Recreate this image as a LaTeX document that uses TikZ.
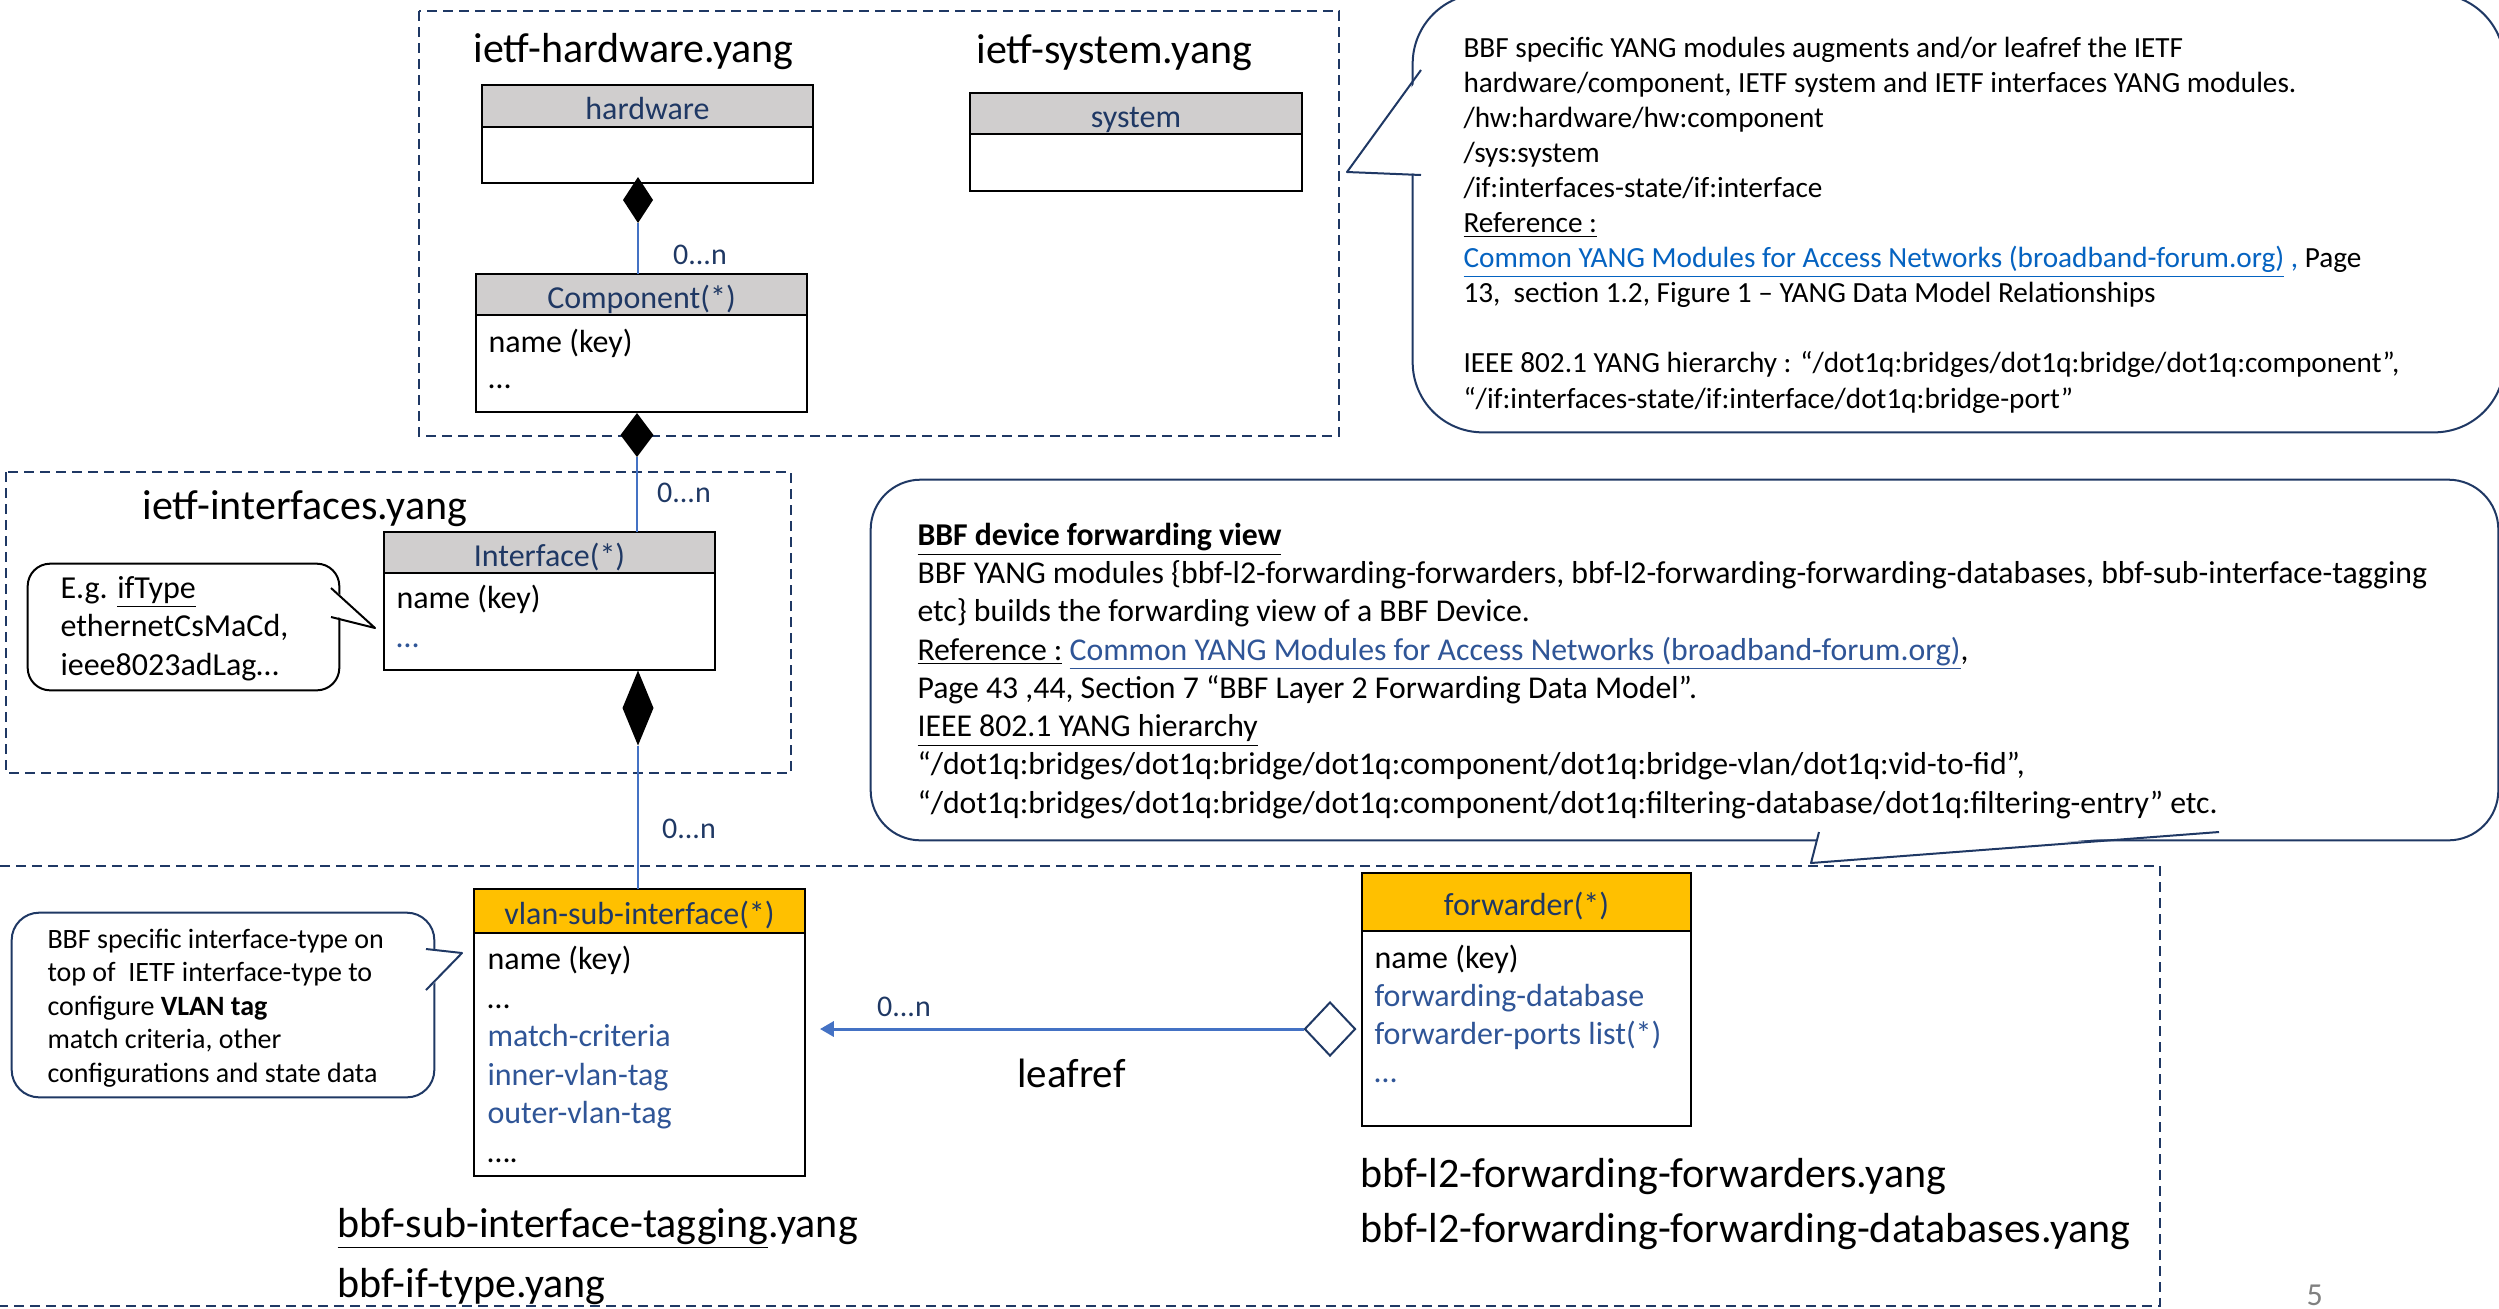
\documentclass[tikz,border=0pt]{standalone}
\usepackage{fontspec}
\setmainfont{Carlito}
\usetikzlibrary{shapes.geometric,fit,arrows.meta}

\definecolor{navy}{RGB}{31,56,100}
\definecolor{headgray}{RGB}{208,206,206}
\definecolor{yangorange}{RGB}{255,192,0}
\definecolor{leafblue}{RGB}{47,85,151}
\definecolor{linkblue}{RGB}{5,99,193}
\definecolor{linkdark}{RGB}{47,85,151}
\definecolor{wireblue}{RGB}{68,114,196}

\newcommand\fsz[2]{\fontsize{#1}{#2}\selectfont}

\tikzset{
  module/.style={draw=navy, line width=0.8pt, dash pattern=on 4pt off 2.4pt},
  classhead/.style={draw=black, line width=0.9pt, inner sep=0pt, outer sep=0pt, fill=#1, text=navy,
    anchor=north west, font=\fsz{12.8}{15.4}, text height=12.2pt, text depth=1.3pt},
  classhead/.default=headgray,
  classbody/.style={draw=black, line width=0.9pt, inner sep=0pt, outer sep=0pt, fill=white, anchor=north west},
  items/.style={anchor=base west, inner sep=0pt, align=left, font=\fsz{12.8}{15.4}},
  yangname/.style={anchor=base west, inner sep=0pt, font=\fsz{16.8}{20}},
  mult/.style={inner sep=0pt, text=navy, font=\fsz{12}{14}},
  comp/.style={diamond, fill=black, inner sep=0pt, outer sep=0pt},
  wire/.style={draw=wireblue, line width=0.6pt},
  callout/.style={draw=navy, line width=0.8pt, fill=white},
  note/.style={anchor=base west, inner sep=0pt, align=left},
}

\begin{document}
\begin{tikzpicture}[x=0.4pt, y=-0.4pt]
\useasboundingbox (0,0) rectangle (2499,1308);

% module frames
\draw[module] (419,11) rectangle (1339,436);
\draw[module] (6,472) rectangle (791,773);
\draw[module] (0,866) -- (2160,866) -- (2160,1306) -- (0,1306);

% module names
\node[yangname] (hwyang) at (473,62) {ietf-hardware.yang};
\node[yangname] (sysyang) at (976,63) {ietf-system.yang};
\node[yangname] (ifyang) at (142,519) {ietf-interfaces.yang};
\node[yangname] (tagyang) at (337,1237) {\underline{bbf-sub-interface-tagging}.yang};
\node[yangname] (iftypeyang) at (337,1297) {bbf-if-type.yang};
\node[yangname] (fwdyang) at (1360,1187) {bbf-l2-forwarding-forwarders.yang};
\node[yangname] (fdbyang) at (1360,1242) {bbf-l2-forwarding-forwarding-databases.yang};

% callouts (multi-line texts sit on their last baseline)
\node[callout, rounded corners=28pt, fit={(1421,2) (2496,424)}] (hwnote) {};
\fill[white] (1424,71) -- (1347,172) -- (1424,174) -- cycle;
\draw[navy, line width=0.8pt, line join=round] (1421,70) -- (1347,172) -- (1421,175);
\node[note, font=\fsz{11.7}{14.04}] (hwnotetext) at (1463,408) {BBF specific YANG modules augments and/or leafref the IETF\\
hardware/component, IETF system and IETF interfaces YANG modules.\\
/hw:hardware/hw:component\\
/sys:system\\
/if:interfaces-state/if:interface\\
\underline{Reference :}\\
{\color{linkblue}\underline{Common YANG Modules for Access Networks (broadband-forum.org)} ,} Page\\
13,\ \ section 1.2, Figure 1 -- YANG Data Model Relationships\\[14.04pt]
IEEE 802.1 YANG hierarchy : “/dot1q:bridges/dot1q:bridge/dot1q:component”,\\
“/if:interfaces-state/if:interface/dot1q:bridge-port”};

\node[callout, rounded corners=20pt, fit={(879,488) (2490,832)}] (fwdnote) {};
\fill[white] (1819,829) -- (1811,863) -- (2219,829) -- cycle;
\draw[navy, line width=0.8pt, line join=round] (1819,832) -- (1811,863) -- (2219,832);
\node[note, font=\fsz{12.7}{15.3}] (fwdnotetext) at (917,813) {\textbf{\underline{BBF device forwarding view}}\\
BBF YANG modules \{bbf-l2-forwarding-forwarders, bbf-l2-forwarding-forwarding-databases, bbf-sub-interface-tagging\\
etc\} builds the forwarding view of a BBF Device.\\
\underline{Reference :} {\color{linkdark}\underline{Common YANG Modules for Access Networks (broadband-forum.org)}},\\
Page 43 ,44, Section 7 “BBF Layer 2 Forwarding Data Model”.\\
\underline{IEEE 802.1 YANG hierarchy}\\
“/dot1q:bridges/dot1q:bridge/dot1q:component/dot1q:bridge-vlan/dot1q:vid-to-fid”,\\
“/dot1q:bridges/dot1q:bridge/dot1q:component/dot1q:filtering-database/dot1q:filtering-entry” etc.};

\node[callout, draw=black, rounded corners=9pt, fit={(36,572) (331,682)}] (egnote) {};
\fill[white] (334,589) -- (375,628) -- (334,616) -- cycle;
\draw[black, line width=0.8pt, line join=round] (331,588) -- (375,628) -- (331,617);
\node[note, font=\fsz{12.8}{15.4}] (egnotetext) at (60,675) {E.g. \underline{ifType}\\ethernetCsMaCd,\\ieee8023adLag…};

\node[callout, rounded corners=11pt, fit={(20,921) (426,1089)}] (vlannote) {};
\fill[white] (429,950) -- (462,953) -- (429,989) -- cycle;
\draw[navy, line width=0.8pt, line join=round] (426,949) -- (462,953) -- (426,990);
\node[note, font=\fsz{11.2}{13.4}] (vlannotetext) at (47,1082) {BBF specific interface-type on\\
top of\ \ IETF interface-type to\\
configure \textbf{VLAN tag}\\
match criteria, other\\
configurations and state data};

% classes
\node[classhead, minimum width=132.4pt, minimum height=16.8pt] (hwhead) at (482,85) {hardware};
\node[classbody, minimum width=132.4pt, minimum height=22.4pt] (hwbody) at (hwhead.south west) {};

\node[classhead, minimum width=132.8pt, minimum height=16.4pt] (syshead) at (970,93) {system};
\node[classbody, minimum width=132.8pt, minimum height=22.8pt] (sysbody) at (syshead.south west) {};

\node[classhead, minimum width=132.4pt, minimum height=16.4pt] (comphead) at (476,274) {Component(*)};
\node[classbody, minimum width=132.4pt, minimum height=38.8pt] (compbody) at (comphead.south west) {};
\node[items, font=\fsz{12.8}{14.4}] (compitems) at (488,388) {name (key)\\…};

\node[classhead, minimum width=132.4pt, minimum height=16.4pt] (ifhead) at (384,532) {Interface(*)};
\node[classbody, minimum width=132.4pt, minimum height=38.8pt] (ifbody) at (ifhead.south west) {};
\node[items, font=\fsz{12.8}{15.6}] (ifitems) at (396,647) {name (key)\\{\color{leafblue}…}};

\node[classhead=yangorange, minimum width=132.4pt, minimum height=17.6pt] (vlanhead) at (474,889) {vlan-sub-interface(*)};
\node[classbody, minimum width=132.4pt, minimum height=97.2pt] (vlanbody) at (vlanhead.south west) {};
\node[items] (vlanitems) at (487,1162) {name (key)\\…\\
{\color{leafblue}match-criteria}\\{\color{leafblue}inner-vlan-tag}\\{\color{leafblue}outer-vlan-tag}\\….};

\node[classhead=yangorange, minimum width=131.6pt, minimum height=23.2pt] (fwdhead) at (1362,873) {forwarder(*)};
\node[classbody, minimum width=131.6pt, minimum height=78pt] (fwdbody) at (fwdhead.south west) {};
\node[items, font=\fsz{12.8}{15.2}] (fwditems) at (1374,1082) {name (key)\\
{\color{leafblue}forwarding-database}\\{\color{leafblue}forwarder-ports list(*)}\\{\color{leafblue}…}};

% compositions
\node[comp, minimum width=12pt, minimum height=18.4pt] (hwdia) at (638,200) {};
\node[comp, minimum width=13.2pt, minimum height=17.6pt] (compdia) at (637,435) {};
\node[comp, minimum width=12.4pt, minimum height=30pt] (ifdia) at (638,708) {};
\node[diamond, draw=navy, fill=white, line width=0.8pt, inner sep=0pt,
  minimum width=20.4pt, minimum height=21.6pt] (fwddia) at (1330,1029) {};

\draw[wire] (hwdia.south) -- (hwdia.south |- comphead.north);
\draw[wire] (compdia.south) -- (compdia.south |- ifhead.north);
\draw[wire] (ifdia.south) -- (ifdia.south |- vlanhead.north);
\draw[draw=wireblue, line width=1.2pt, shorten >=6pt, -{Triangle[length=5.5pt,width=6pt]}]
  (fwddia.west) -- (vlanbody.east |- fwddia.west);

% multiplicities
\node[mult] (hwmult) at (700,255) {0...n};
\node[mult] (compmult) at (684,493) {0...n};
\node[mult] (ifmult) at (689,829) {0...n};
\node[mult] (fwdmult) at (904,1007) {0...n};
\node[yangname, font=\fsz{16.4}{20}] (leafref) at (1017,1087) {leafref};

\node[anchor=base west, inner sep=0pt, text=gray, font=\fsz{12.8}{15}] (pagenum) at (2306,1305) {5};
\end{tikzpicture}
\end{document}
